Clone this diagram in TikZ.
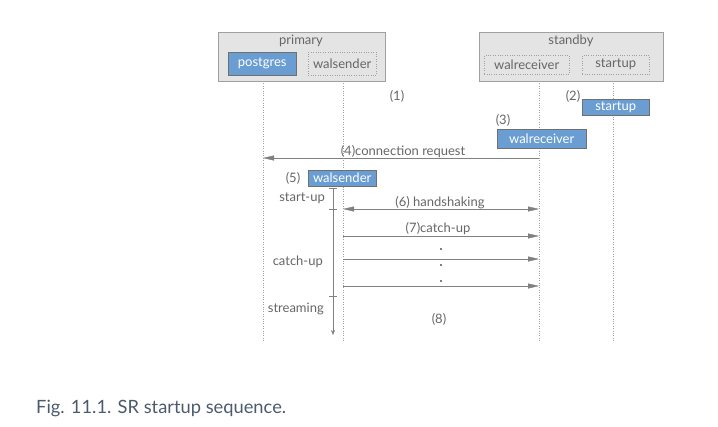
\documentclass[tikz,border=0pt]{standalone}
\usepackage{fontspec}
\setmainfont{Lato}
\usetikzlibrary{arrows.meta}
\definecolor{boxgray}{HTML}{E4E4E4}
\definecolor{linegray}{HTML}{A0A0A0}
\definecolor{txtgray}{HTML}{666666}
\definecolor{procblue}{HTML}{6A9ED2}
\definecolor{arrgray}{HTML}{808080}
\definecolor{capblue}{HTML}{4C5A6E}

\begin{document}
\begin{tikzpicture}[x=1pt,y=-1pt,
	txt/.style={text=txtgray,font=\fontsize{13}{15}\selectfont,inner sep=0pt,yshift=-1.5pt},
	group/.style={draw=linegray,fill=boxgray,anchor=north west,inner sep=0pt},
	idle/.style={draw=linegray,dotted,anchor=north west,inner sep=0pt,text=txtgray,font=\fontsize{13}{15}\selectfont},
	proc/.style={draw=linegray!70!black,fill=procblue,anchor=north west,inner sep=0pt,text=white,font=\fontsize{13}{15}\selectfont},
	life/.style={draw=linegray,dotted},
	msg/.style={draw=arrgray,-{Triangle[length=11pt,width=5pt]}},
	dot/.style={circle,fill=txtgray!80!black,inner sep=0pt,minimum size=2.4pt}]
\useasboundingbox (0,0) rectangle (718,426);

% primary and standby
\node [group,minimum width=167,minimum height=49] (primary) at (218,32) {};
\node [txt] (primarylbl) at (301,39) {primary};
\node [proc,minimum width=68,minimum height=23] (postgres) at (228,52) {postgres};
\node [idle,minimum width=68,minimum height=23] (walsnd) at (308,52) {walsender};

\node [group,minimum width=184,minimum height=49] (standby) at (479,32) {};
\node [txt] (standbylbl) at (571,39) {standby};
\node [idle,minimum width=85,minimum height=19] (walrcv) at (484,55) {walreceiver};
\node [idle,minimum width=67,minimum height=19] (startup) at (582,55) {startup};

% lifelines
\coordinate (pgtop) at (263,81);   \coordinate (pgbot) at (263,342);
\coordinate (wstop) at (343,81);   \coordinate (wsbot) at (343,342);
\coordinate (wrtop) at (539,81);   \coordinate (wrbot) at (539,342);
\coordinate (sttop) at (613,81);   \coordinate (stbot) at (613,342);
\foreach \t/\b in {pgtop/pgbot,wstop/wsbot,wrtop/wrbot,sttop/stbot}
	\draw [life] (\t) -- (\b);

% steps (1)-(3)
\node [txt] (s1) at (397,95) {(1)};
\node [txt] (s2) at (573,95) {(2)};
\node [proc,minimum width=67,minimum height=16] (startupp) at (582,99) {startup};
\node [txt] (s3) at (503,119) {(3)};
\node [proc,minimum width=89,minimum height=19] (walrcvp) at (497,129) {walreceiver};

% (4) connection request
\coordinate (c4a) at (539,158); \coordinate (c4b) at (263,158);
\draw [msg] (c4a) -- (c4b);
\node [txt] (s4) at (403,150) {(4)connection request};

% (5) walsender
\node [txt] (s5) at (293,177) {(5)};
\node [proc,minimum width=68,minimum height=16] (walsndp) at (308,170) {walsender};

% phases of walsender
\coordinate (tltop) at (333,188); \coordinate (tlbot) at (333,335);
\draw [draw=arrgray,{Bar[width=8pt]}-{Stealth[length=5pt,width=4pt]}] (tltop) -- (tlbot);
\coordinate (tk1a) at (329,209); \coordinate (tk1b) at (337,209);
\coordinate (tk2a) at (329,296); \coordinate (tk2b) at (337,296);
\draw [draw=arrgray] (tk1a) -- (tk1b);
\draw [draw=arrgray] (tk2a) -- (tk2b);
\node [txt,anchor=east] (ph1) at (325,197) {start-up};
\node [txt,anchor=east] (ph2) at (323,260) {catch-up};
\node [txt,anchor=east] (ph3) at (324,307) {streaming};

% (6) handshaking
\coordinate (c6a) at (343,209); \coordinate (c6b) at (539,209);
\draw [msg,{Triangle[length=11pt,width=5pt]}-{Triangle[length=11pt,width=5pt]}] (c6a) -- (c6b);
\node [txt] (s6) at (440,201) {(6) handshaking};

% (7) catch-up
\foreach \n/\y in {a/236,b/259,c/286} {
	\coordinate (c7\n) at (343,\y); \coordinate (d7\n) at (539,\y);
	\draw [msg] (c7\n) -- (d7\n);
}
\node [txt] (s7) at (438,227) {(7)catch-up};
\node [dot] (dt1) at (441,249) {};
\node [dot] (dt2) at (441,265) {};
\node [dot] (dt3) at (441,281) {};

% (8)
\node [txt] (s8) at (439,318) {(8)};

% caption
\node [anchor=west,inner sep=0pt,text=capblue,font=\fontsize{18.3}{21}\selectfont] (cap) at (36,408) {Fig. 11.1. SR startup sequence.};
\end{tikzpicture}
\end{document}
